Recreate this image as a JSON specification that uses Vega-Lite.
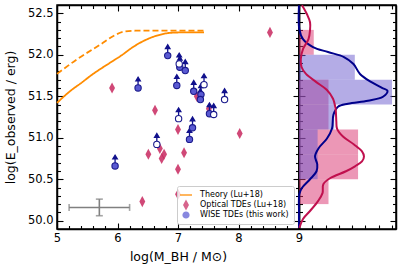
{
  "$schema": "https://vega.github.io/schema/vega-lite/v6.json",
  "padding": {"left": 3, "right": 2, "top": 0, "bottom": 0},
  "background": "white",
  "config": {
    "font": "DejaVu Sans",
    "view": {"stroke": "black", "strokeWidth": 1.5},
    "axis": {"domainColor": "black", "domainWidth": 1.5, "tickColor": "black", "tickWidth": 1.1, "labelFont": "DejaVu Sans", "labelFontSize": 11.5, "labelColor": "black", "titleFont": "DejaVu Sans", "titleFontSize": 12.5, "titleFontWeight": "normal", "titleColor": "black", "grid": false, "labelOverlap": false, "minExtent": 0}
  },
  "datasets": {
    "theory": [
      {"x": 5.0, "y": 51.42, "curve": "solid"},
      {"x": 5.23, "y": 51.57, "curve": "solid"},
      {"x": 5.4, "y": 51.66, "curve": "solid"},
      {"x": 5.56, "y": 51.75, "curve": "solid"},
      {"x": 5.89, "y": 51.91, "curve": "solid"},
      {"x": 6.06, "y": 51.99, "curve": "solid"},
      {"x": 6.27, "y": 52.1, "curve": "solid"},
      {"x": 6.44, "y": 52.17, "curve": "solid"},
      {"x": 6.67, "y": 52.235, "curve": "solid"},
      {"x": 6.88, "y": 52.265, "curve": "solid"},
      {"x": 7.1, "y": 52.27, "curve": "solid"},
      {"x": 7.43, "y": 52.27, "curve": "solid"},
      {"x": 5.0, "y": 51.77, "curve": "dashed"},
      {"x": 5.34, "y": 51.95, "curve": "dashed"},
      {"x": 5.73, "y": 52.13, "curve": "dashed"},
      {"x": 5.94, "y": 52.23, "curve": "dashed"},
      {"x": 6.11, "y": 52.28, "curve": "dashed"},
      {"x": 6.3, "y": 52.29, "curve": "dashed"},
      {"x": 7.43, "y": 52.29, "curve": "dashed"}
    ],
    "errbar": [
      {"x": 5.7, "xlo": 5.2, "xhi": 6.2, "y": 50.16, "ylo": 50.06, "yhi": 50.26}
    ],
    "optical": [
      {"x": 5.91, "y": 51.60, "series": "Optical TDEs (Lu+18)"},
      {"x": 6.62, "y": 51.33, "series": "Optical TDEs (Lu+18)"},
      {"x": 7.00, "y": 51.10, "series": "Optical TDEs (Lu+18)"},
      {"x": 7.31, "y": 51.50, "series": "Optical TDEs (Lu+18)"},
      {"x": 7.51, "y": 51.35, "series": "Optical TDEs (Lu+18)"},
      {"x": 8.52, "y": 52.27, "series": "Optical TDEs (Lu+18)"},
      {"x": 8.02, "y": 51.05, "series": "Optical TDEs (Lu+18)"},
      {"x": 6.51, "y": 50.80, "series": "Optical TDEs (Lu+18)"},
      {"x": 6.70, "y": 50.87, "series": "Optical TDEs (Lu+18)"},
      {"x": 6.73, "y": 50.75, "series": "Optical TDEs (Lu+18)"},
      {"x": 6.77, "y": 50.80, "series": "Optical TDEs (Lu+18)"},
      {"x": 7.00, "y": 50.62, "series": "Optical TDEs (Lu+18)"},
      {"x": 7.10, "y": 50.82, "series": "Optical TDEs (Lu+18)"},
      {"x": 6.41, "y": 50.23, "series": "Optical TDEs (Lu+18)"},
      {"x": 7.00, "y": 50.32, "series": "Optical TDEs (Lu+18)"}
    ],
    "wise": [
      {"x": 6.34, "y": 51.60, "kind": "filled"},
      {"x": 6.83, "y": 51.99, "kind": "filled"},
      {"x": 6.98, "y": 51.63, "kind": "filled"},
      {"x": 7.03, "y": 51.85, "kind": "filled"},
      {"x": 7.12, "y": 51.81, "kind": "filled"},
      {"x": 7.26, "y": 51.56, "kind": "filled"},
      {"x": 7.38, "y": 51.52, "kind": "filled"},
      {"x": 7.37, "y": 51.46, "kind": "filled"},
      {"x": 7.52, "y": 51.29, "kind": "filled"},
      {"x": 7.24, "y": 51.12, "kind": "filled"},
      {"x": 7.19, "y": 50.98, "kind": "filled"},
      {"x": 5.96, "y": 50.66, "kind": "filled"},
      {"x": 7.02, "y": 51.89, "kind": "open"},
      {"x": 7.43, "y": 51.64, "kind": "open"},
      {"x": 7.77, "y": 51.46, "kind": "open"},
      {"x": 7.59, "y": 51.28, "kind": "open"},
      {"x": 7.01, "y": 51.23, "kind": "open"},
      {"x": 6.65, "y": 50.92, "kind": "open"}
    ],
    "histOptical": [
      {"y0": 52.0, "y1": 52.3, "dens": 0.222},
      {"y0": 51.4, "y1": 51.7, "dens": 0.444},
      {"y0": 51.1, "y1": 51.4, "dens": 0.444},
      {"y0": 50.8, "y1": 51.1, "dens": 0.889},
      {"y0": 50.5, "y1": 50.8, "dens": 0.889},
      {"y0": 50.2, "y1": 50.5, "dens": 0.444}
    ],
    "histWise": [
      {"y0": 51.7, "y1": 52.0, "dens": 0.84},
      {"y0": 51.4, "y1": 51.7, "dens": 1.40},
      {"y0": 51.1, "y1": 51.4, "dens": 0.53},
      {"y0": 50.8, "y1": 51.1, "dens": 0.28},
      {"y0": 50.5, "y1": 50.8, "dens": 0.28}
    ],
    "kdeOptical": [
      {"y": 52.596, "d": 0.045}, {"y": 52.488, "d": 0.120}, {"y": 52.392, "d": 0.166}, {"y": 52.296, "d": 0.166},
      {"y": 52.189, "d": 0.143}, {"y": 52.069, "d": 0.060}, {"y": 51.949, "d": 0.027}, {"y": 51.853, "d": 0.038},
      {"y": 51.769, "d": 0.105}, {"y": 51.673, "d": 0.256}, {"y": 51.578, "d": 0.417}, {"y": 51.470, "d": 0.512},
      {"y": 51.350, "d": 0.550}, {"y": 51.195, "d": 0.562}, {"y": 51.111, "d": 0.572}, {"y": 51.015, "d": 0.662},
      {"y": 50.919, "d": 0.828}, {"y": 50.835, "d": 0.948}, {"y": 50.775, "d": 0.978}, {"y": 50.715, "d": 0.948},
      {"y": 50.656, "d": 0.843}, {"y": 50.596, "d": 0.707}, {"y": 50.512, "d": 0.467}, {"y": 50.440, "d": 0.366},
      {"y": 50.332, "d": 0.354}, {"y": 50.236, "d": 0.286}, {"y": 50.117, "d": 0.166}, {"y": 50.021, "d": 0.060},
      {"y": 49.913, "d": 0.005}
    ],
    "kdeWise": [
      {"y": 52.596, "d": 0.0}, {"y": 52.308, "d": 0.005}, {"y": 52.189, "d": 0.060}, {"y": 52.093, "d": 0.211},
      {"y": 52.033, "d": 0.437}, {"y": 51.973, "d": 0.677}, {"y": 51.889, "d": 0.820}, {"y": 51.769, "d": 0.918},
      {"y": 51.673, "d": 1.084}, {"y": 51.602, "d": 1.249}, {"y": 51.566, "d": 1.332}, {"y": 51.494, "d": 1.264},
      {"y": 51.446, "d": 1.038}, {"y": 51.410, "d": 0.738}, {"y": 51.374, "d": 0.587}, {"y": 51.278, "d": 0.519},
      {"y": 51.111, "d": 0.497}, {"y": 50.991, "d": 0.421}, {"y": 50.871, "d": 0.293}, {"y": 50.775, "d": 0.241},
      {"y": 50.680, "d": 0.275}, {"y": 50.596, "d": 0.264}, {"y": 50.500, "d": 0.166}, {"y": 50.392, "d": 0.041},
      {"y": 50.320, "d": 0.005}, {"y": 50.117, "d": 0.0}, {"y": 49.913, "d": 0.0}
    ]
  },
  "hconcat": [
    {
      "width": 242,
      "height": 224,
      "layer": [
        {
          "data": {"name": "theory"},
          "mark": {"type": "line", "color": "#ff8c00", "strokeWidth": 1.8, "interpolate": "monotone"},
          "encoding": {
            "x": {"field": "x", "type": "quantitative", "scale": {"domain": [5, 9], "nice": false, "zero": false},
              "axis": {"orient": "bottom", "values": [5, 5.2, 5.4, 5.6, 5.8, 6, 6.2, 6.4, 6.6, 6.8, 7, 7.2, 7.4, 7.6, 7.8, 8, 8.2, 8.4, 8.6, 8.8, 9],
                "labelExpr": "abs(datum.value - round(datum.value)) < 0.001 ? format(datum.value, 'd') : ''",
                "tickSize": {"condition": {"test": "abs(datum.value - round(datum.value)) < 0.001", "value": -6}, "value": -3.5},
                "labelPadding": 9, "labelFlush": false, "title": "log(M_BH / M⊙)", "titlePadding": 4}},
            "y": {"field": "y", "type": "quantitative", "scale": {"domain": [49.9, 52.6], "nice": false, "zero": false},
              "axis": {"orient": "left", "values": [50, 50.1, 50.2, 50.3, 50.4, 50.5, 50.6, 50.7, 50.8, 50.9, 51, 51.1, 51.2, 51.3, 51.4, 51.5, 51.6, 51.7, 51.8, 51.9, 52, 52.1, 52.2, 52.3, 52.4, 52.5],
                "labelExpr": "abs(2*datum.value - round(2*datum.value)) < 0.001 ? format(datum.value, '.1f') : ''",
                "tickSize": {"condition": {"test": "abs(2*datum.value - round(2*datum.value)) < 0.001", "value": -6}, "value": -3.5},
                "labelPadding": 10, "title": "log(E_observed / erg)", "titlePadding": 10}},
            "strokeDash": {"field": "curve", "type": "nominal", "scale": {"domain": ["solid", "dashed"], "range": [[1, 0], [6, 3]]}, "legend": null}
          }
        },
        {
          "data": {"name": "errbar"},
          "mark": {"type": "errorbar", "ticks": {"size": 7, "color": "#808080"}, "color": "#808080", "thickness": 1.6},
          "encoding": {
            "x": {"field": "xlo", "type": "quantitative", "axis": null},
            "x2": {"field": "xhi"},
            "y": {"field": "y", "type": "quantitative", "axis": null}
          }
        },
        {
          "data": {"name": "errbar"},
          "mark": {"type": "errorbar", "ticks": {"size": 7, "color": "#808080"}, "color": "#808080", "thickness": 1.6},
          "encoding": {
            "y": {"field": "ylo", "type": "quantitative", "axis": null},
            "y2": {"field": "yhi"},
            "x": {"field": "x", "type": "quantitative", "axis": null}
          }
        },
        {
          "data": {"name": "optical"},
          "mark": {"type": "point", "size": 62, "filled": true, "opacity": 0.85},
          "encoding": {
            "x": {"field": "x", "type": "quantitative", "axis": null},
            "y": {"field": "y", "type": "quantitative", "axis": null},
            "shape": {"field": "series", "type": "nominal",
              "scale": {"domain": ["Theory (Lu+18)", "Optical TDEs (Lu+18)", "WISE TDEs (this work)"], "range": ["M-1.5,-0.22L1.5,-0.22L1.5,0.22L-1.5,0.22Z", "M0,-1.4L0.75,0L0,1.4L-0.75,0Z", "M-0.9,0A0.9,0.9 0 1,0 0.9,0A0.9,0.9 0 1,0 -0.9,0Z"]}},
            "color": {"field": "series", "type": "nominal",
              "scale": {"domain": ["Theory (Lu+18)", "Optical TDEs (Lu+18)", "WISE TDEs (this work)"], "range": ["#ff8c00", "#c8285f", "#5a5ad2"]},
              "legend": {"orient": "bottom-right", "offset": 5, "title": null, "labelFontSize": 8, "labelFont": "DejaVu Sans", "labelColor": "black",
                "symbolSize": 64, "symbolOpacity": 1, "symbolStrokeWidth": 0, "rowPadding": 0, "padding": 5, "strokeColor": "#cccccc", "fillColor": "rgba(255,255,255,0.8)", "cornerRadius": 2, "labelLimit": 200, "labelOffset": 10}
            }
          }
        },
        {
          "data": {"name": "wise"},
          "mark": {"type": "point", "shape": "M0,-0.6L0,-1.5M-0.45,-1.4L0,-2.15L0.45,-1.4Z", "size": 100, "filled": true, "color": "#10108c", "stroke": "#10108c", "strokeWidth": 1.3, "opacity": 1},
          "encoding": {
            "x": {"field": "x", "type": "quantitative",
              "axis": {"orient": "top", "values": [5, 5.2, 5.4, 5.6, 5.8, 6, 6.2, 6.4, 6.6, 6.8, 7, 7.2, 7.4, 7.6, 7.8, 8, 8.2, 8.4, 8.6, 8.8, 9], "labels": false, "title": null,
                "tickSize": {"condition": {"test": "abs(datum.value - round(datum.value)) < 0.001", "value": -6}, "value": -3.5}}},
            "y": {"field": "y", "type": "quantitative",
              "axis": {"orient": "right", "values": [50, 50.1, 50.2, 50.3, 50.4, 50.5, 50.6, 50.7, 50.8, 50.9, 51, 51.1, 51.2, 51.3, 51.4, 51.5, 51.6, 51.7, 51.8, 51.9, 52, 52.1, 52.2, 52.3, 52.4, 52.5], "labels": false, "title": null,
                "tickSize": {"condition": {"test": "abs(2*datum.value - round(2*datum.value)) < 0.001", "value": -6}, "value": -3.5}}}
          }
        },
        {
          "data": {"name": "wise"},
          "mark": {"type": "point", "shape": "circle", "size": 40, "stroke": "#1a1a8c", "strokeWidth": 1.1, "opacity": 1},
          "encoding": {
            "x": {"field": "x", "type": "quantitative", "axis": null},
            "y": {"field": "y", "type": "quantitative", "axis": null},
            "fill": {"field": "kind", "type": "nominal", "scale": {"domain": ["filled", "open"], "range": ["#5a5ad2", "#ffffff"]}, "legend": null}
          }
        }
      ],
      "resolve": {"axis": {"x": "independent", "y": "independent"}}
    },
    {
      "width": 97,
      "height": 224,
      "layer": [
        {
          "data": {"name": "histOptical"},
          "mark": {"type": "rect", "color": "#d9306e", "opacity": 0.5},
          "encoding": {
            "x": {"field": "dens", "type": "quantitative", "scale": {"domain": [0, 1.46], "nice": false, "zero": false},
              "axis": {"orient": "bottom", "values": [0, 0.2, 0.4, 0.6, 0.8, 1.0, 1.2, 1.4], "labels": false, "title": null, "tickSize": -4}},
            "x2": {"datum": 0},
            "y": {"field": "y0", "type": "quantitative", "scale": {"domain": [49.9, 52.6], "nice": false, "zero": false},
              "axis": {"orient": "left", "values": [50, 50.1, 50.2, 50.3, 50.4, 50.5, 50.6, 50.7, 50.8, 50.9, 51, 51.1, 51.2, 51.3, 51.4, 51.5, 51.6, 51.7, 51.8, 51.9, 52, 52.1, 52.2, 52.3, 52.4, 52.5], "labels": false, "title": null,
                "tickSize": {"condition": {"test": "abs(2*datum.value - round(2*datum.value)) < 0.001", "value": -6}, "value": -3.5}}},
            "y2": {"field": "y1"}
          }
        },
        {
          "data": {"name": "histWise"},
          "mark": {"type": "rect", "color": "#6a5acd", "opacity": 0.5},
          "encoding": {
            "x": {"field": "dens", "type": "quantitative",
              "axis": {"orient": "top", "values": [0, 0.2, 0.4, 0.6, 0.8, 1.0, 1.2, 1.4], "labels": false, "title": null, "tickSize": -4}},
            "x2": {"datum": 0},
            "y": {"field": "y0", "type": "quantitative",
              "axis": {"orient": "right", "values": [50, 50.1, 50.2, 50.3, 50.4, 50.5, 50.6, 50.7, 50.8, 50.9, 51, 51.1, 51.2, 51.3, 51.4, 51.5, 51.6, 51.7, 51.8, 51.9, 52, 52.1, 52.2, 52.3, 52.4, 52.5], "labels": false, "title": null,
                "tickSize": {"condition": {"test": "abs(2*datum.value - round(2*datum.value)) < 0.001", "value": -6}, "value": -3.5}}},
            "y2": {"field": "y1"}
          }
        },
        {
          "data": {"name": "kdeWise"},
          "mark": {"type": "line", "color": "#00008b", "strokeWidth": 2, "interpolate": "catmull-rom"},
          "encoding": {
            "x": {"field": "d", "type": "quantitative", "axis": null},
            "y": {"field": "y", "type": "quantitative", "axis": null},
            "order": {"field": "y", "type": "quantitative"}
          }
        },
        {
          "data": {"name": "kdeOptical"},
          "mark": {"type": "line", "color": "#c0104e", "strokeWidth": 2, "interpolate": "catmull-rom"},
          "encoding": {
            "x": {"field": "d", "type": "quantitative", "axis": null},
            "y": {"field": "y", "type": "quantitative", "axis": null},
            "order": {"field": "y", "type": "quantitative"}
          }
        }
      ],
      "resolve": {"axis": {"x": "independent", "y": "independent"}}
    }
  ],
  "spacing": 0,
  "bounds": "flush",
  "resolve": {"legend": {"color": "independent", "shape": "independent"}, "scale": {"color": "independent", "shape": "independent", "x": "independent"}}
}
